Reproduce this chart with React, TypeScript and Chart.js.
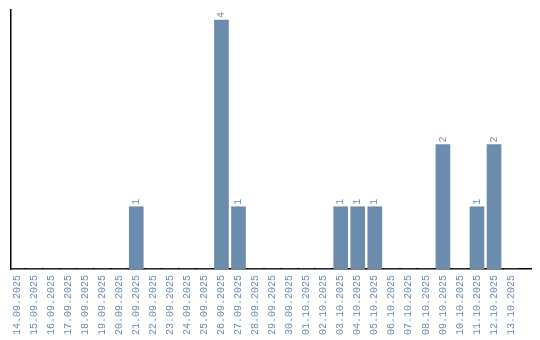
import React, { useEffect, useRef } from "react";
import { Chart, registerables } from "chart.js";

Chart.register(...registerables);

const dates: string[] = [
  "14.09.2025", "15.09.2025", "16.09.2025", "17.09.2025", "18.09.2025",
  "19.09.2025", "20.09.2025", "21.09.2025", "22.09.2025", "23.09.2025",
  "24.09.2025", "25.09.2025", "26.09.2025", "27.09.2025", "28.09.2025",
  "29.09.2025", "30.09.2025", "01.10.2025", "02.10.2025", "03.10.2025",
  "04.10.2025", "05.10.2025", "06.10.2025", "07.10.2025", "08.10.2025",
  "09.10.2025", "10.10.2025", "11.10.2025", "12.10.2025", "13.10.2025",
];

const counts: number[] = [
  0, 0, 0, 0, 0, 0, 0, 1, 0, 0,
  0, 0, 4, 1, 0, 0, 0, 0, 0, 1,
  1, 1, 0, 0, 0, 2, 0, 1, 2, 0,
];

const BLUE = "#6b8cad";
const FONT = "'Liberation Mono', monospace";

const valueLabels = {
  id: "valueLabels",
  afterDatasetsDraw(chart: any) {
    const ctx = chart.ctx;
    const meta = chart.getDatasetMeta(0);
    ctx.save();
    ctx.fillStyle = BLUE;
    ctx.font = `10px ${FONT}`;
    ctx.textAlign = "left";
    ctx.textBaseline = "middle";
    meta.data.forEach((bar: any, i: number) => {
      const v = counts[i];
      if (!v) return;
      ctx.save();
      ctx.translate(bar.x, bar.y - 2);
      ctx.rotate(-Math.PI / 2);
      ctx.fillText(String(v), 0, 0);
      ctx.restore();
    });
    ctx.restore();
  },
};

export default function App() {
  const ref = useRef<HTMLCanvasElement | null>(null);
  useEffect(() => {
    if (!ref.current) return;
    const chart = new Chart(ref.current, {
      type: "bar",
      data: {
        datasets: [
          {
            data: counts.map((v, i) => ({ x: i, y: v })),
            backgroundColor: BLUE,
            barThickness: 14,
          },
        ],
      },
      options: {
        animation: false,
        responsive: false,
        maintainAspectRatio: false,
        layout: { padding: { left: 3, right: 1, top: 2, bottom: 3 } },
        plugins: { legend: { display: false }, tooltip: { enabled: false } },
        scales: {
          x: {
            type: "linear",
            offset: false,
            min: -0.352,
            max: 30.17,
            grid: { display: false, drawTicks: false },
            border: { display: true, color: "#000", width: 1.5 },
            afterBuildTicks: (scale: any) => {
              scale.ticks = dates.map((_, i) => ({ value: i }));
            },
            afterFit: (scale: any) => {
              scale.paddingLeft = 0;
              scale.paddingRight = 0;
              scale.height = 66;
            },
            ticks: {
              autoSkip: false,
              minRotation: 90,
              maxRotation: 90,
              padding: 6,
              color: BLUE,
              font: { family: FONT, size: 10 },
              callback: (v: any) => dates[v as number] ?? "",
            },
          },
          y: {
            min: 0,
            max: 4.16,
            grid: { display: false, drawTicks: false },
            border: { display: true, color: "#000", width: 1.5 },
            ticks: { display: false },
          },
        },
      },
      plugins: [valueLabels],
    });
    return () => chart.destroy();
  }, []);
  return <canvas ref={ref} width={524} height={330} />;
}
